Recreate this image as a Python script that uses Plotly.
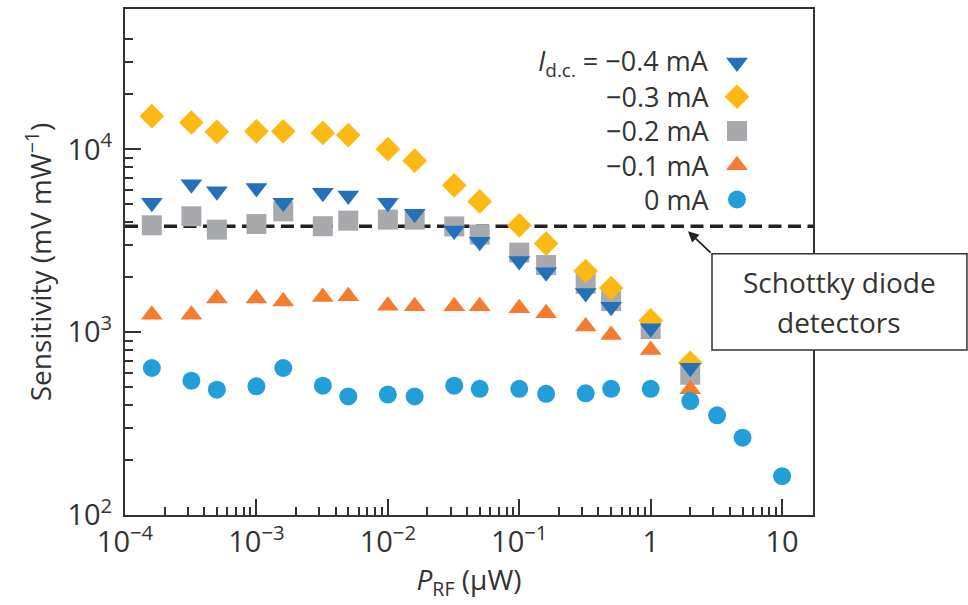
import plotly.graph_objects as go

# Incident RF power (µW). The biased runs stop at 2 µW; the zero-bias run goes to 10 µW.
P_RF_BIASED = [1.6e-4, 3.2e-4, 5e-4, 1e-3, 1.6e-3, 3.2e-3, 5e-3, 1e-2, 1.6e-2,
               3.2e-2, 5e-2, 0.1, 0.16, 0.32, 0.5, 1, 2]
P_RF_ZERO = P_RF_BIASED + [3.2, 5, 10]

# Sensitivity (mV mW^-1) for each d.c. bias current
SENS_M04 = [5100, 6450, 5900, 6150, 5100, 5800, 5600, 5100, 4450,
            3600, 3120, 2450, 2130, 1640, 1380, 1050, 640]
SENS_M03 = [15200, 14030, 12480, 12560, 12560, 12300, 11970, 10040, 8670,
            6360, 5190, 3845, 3055, 2160, 1745, 1160, 680]
SENS_M02 = [3845, 4305, 3640, 3905, 4580, 3800, 4075, 4130, 4130,
            3790, 3420, 2725, 2330, 1840, 1480, 1040, 585]
SENS_M01 = [1245, 1245, 1530, 1530, 1470, 1560, 1575, 1395, 1385,
            1385, 1385, 1350, 1270, 1075, 965, 800, 488]
SENS_ZERO = [637, 543, 485, 506, 637, 510, 445, 456, 445,
             510, 490, 490, 460, 463, 490, 490, 420, 351, 265, 163]

SCHOTTKY_LEVEL = 3800  # typical Schottky diode detector sensitivity

LEGEND_LABELS = ["<i>I</i><sub>d.c.</sub> = −0.4 mA", "−0.3 mA", "−0.2 mA", "−0.1 mA", "0 mA"]

X_TICKS = [1e-4, 1e-3, 1e-2, 1e-1, 1, 10]
X_TICKTEXT = ["10<sup>−4</sup>", "10<sup>−3</sup>", "10<sup>−2</sup>",
              "10<sup>−1</sup>", "1", "10"]
Y_TICKS = [1e2, 1e3, 1e4]
Y_TICKTEXT = ["10<sup>2</sup>", "10<sup>3</sup>", "10<sup>4</sup>"]

# Minor ticks at 2..9 within each decade shown
X_MINOR = [m * 10.0 ** e for e in range(-4, 1) for m in range(2, 10)]
Y_MINOR = [m * 10.0 ** e for e in (2, 3) for m in range(2, 10)] + [2e4, 3e4, 4e4]

C_BLUE = "#2471b9"
C_GOLD = "#fdb913"
C_GRAY = "#a7a9ac"
C_ORANGE = "#f47b30"
C_CYAN = "#229fd9"
INK = "#333333"
FONT = "Open Sans"

series = [
    # (x, y, symbol, size, colour, legend row)
    (P_RF_BIASED, SENS_M02, "square", 20, C_GRAY, 2),
    (P_RF_BIASED, SENS_M03, "diamond", 19, C_GOLD, 1),
    (P_RF_BIASED, SENS_M04, "triangle-down", 19, C_BLUE, 0),
    (P_RF_BIASED, SENS_M01, "triangle-up", 19, C_ORANGE, 3),
    (P_RF_ZERO, SENS_ZERO, "circle", 18, C_CYAN, 4),
]

fig = go.Figure()

for x, y, sym, size, col, _ in series:
    fig.add_trace(go.Scatter(
        x=x, y=y, mode="markers",
        marker=dict(symbol=sym, size=size, color=col, line=dict(width=0)),
        showlegend=False, hoverinfo="skip", cliponaxis=False,
    ))

# Hand-built key: markers on an overlay axis, labels right-aligned to their left
LEG_X = 0.8895
LEG_Y0 = 0.8943
LEG_STEP = 0.0677
LEG_TEXT_X = 0.8517
for x, y, sym, size, col, row in series:
    fig.add_trace(go.Scatter(
        x=[LEG_X], y=[LEG_Y0 - row * LEG_STEP], mode="markers",
        xaxis="x2", yaxis="y2",
        marker=dict(symbol=sym, size=size, color=col, line=dict(width=0)),
        showlegend=False, hoverinfo="skip", cliponaxis=False,
    ))

annotations = []
for row, label in enumerate(LEGEND_LABELS):
    annotations.append(dict(
        xref="paper", yref="paper", x=LEG_TEXT_X, y=LEG_Y0 - row * LEG_STEP,
        xanchor="right", yanchor="middle", text=label, showarrow=False,
        font=dict(family=FONT, size=27, color=INK),
    ))

# Callout for the Schottky reference line
BOX = dict(x0=0.8532, x1=1.2238, y0=0.3262, y1=0.5163)
box_cx = (BOX["x0"] + BOX["x1"]) / 2
annotations += [
    dict(xref="paper", yref="paper", x=box_cx, y=0.4595, text="Schottky diode",
         showarrow=False, xanchor="center", yanchor="middle",
         font=dict(family=FONT, size=28, color=INK)),
    dict(xref="paper", yref="paper", x=box_cx, y=0.3808, text="detectors",
         showarrow=False, xanchor="center", yanchor="middle",
         font=dict(family=FONT, size=28, color=INK)),
    dict(xref="paper", yref="paper", x=0.8183, y=0.561, text="",
         showarrow=True, ax=24, ay=23, arrowhead=2, arrowsize=1.2,
         arrowwidth=1.8, arrowcolor="#222222"),
]

shapes = [
    dict(type="line", xref="paper", yref="y", x0=0, x1=1,
         y0=SCHOTTKY_LEVEL, y1=SCHOTTKY_LEVEL, layer="below",
         line=dict(color="#222222", width=3.5, dash="13px,6.5px")),
    dict(type="rect", xref="paper", yref="paper", layer="above",
         fillcolor="white", line=dict(color=INK, width=1.5), **BOX),
]

axis_common = dict(
    type="log", showline=True, linecolor=INK, linewidth=2, mirror=True,
    ticks="inside", ticklen=16, tickwidth=2, tickcolor=INK,
    showgrid=False, zeroline=False, tickmode="array",
    tickfont=dict(family=FONT, size=29, color=INK),
)

fig.update_layout(
    width=968, height=605,
    margin=dict(l=125, r=155, t=7, b=90),
    paper_bgcolor="white", plot_bgcolor="white",
    font=dict(family=FONT, color=INK),
    xaxis=dict(
        **axis_common, range=[-4, 1.235], tickvals=X_TICKS, ticktext=X_TICKTEXT,
        minor=dict(tickmode="array", tickvals=X_MINOR, ticks="inside",
                   ticklen=8, tickwidth=2, tickcolor=INK, showgrid=False),
        title=dict(text="<i>P</i><sub>RF</sub> (μW)", standoff=10,
                   font=dict(family=FONT, size=28, color=INK)),
    ),
    yaxis=dict(
        **axis_common, range=[2, 4.768], tickvals=Y_TICKS, ticktext=Y_TICKTEXT,
        ticklabelstandoff=5,
        minor=dict(tickmode="array", tickvals=Y_MINOR, ticks="inside",
                   ticklen=8, tickwidth=2, tickcolor=INK, showgrid=False),
        title=dict(text="Sensitivity (mV mW<sup>−1</sup>)", standoff=8,
                   font=dict(family=FONT, size=28, color=INK)),
    ),
    xaxis2=dict(overlaying="x", range=[0, 1], visible=False),
    yaxis2=dict(overlaying="y", range=[0, 1], visible=False),
    shapes=shapes,
    annotations=annotations,
)

fig.write_html("out.html")
